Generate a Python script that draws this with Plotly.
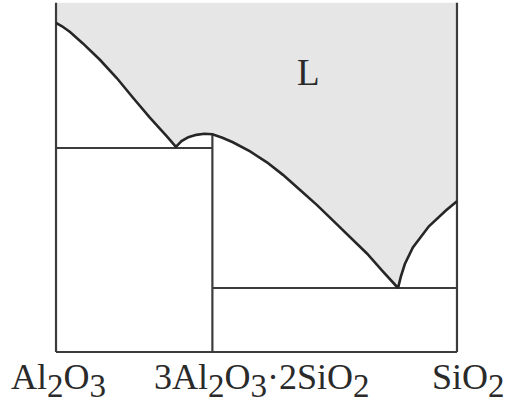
import plotly.graph_objects as go

# Composition (mol% SiO2) and temperature (deg C, schematic)
liq_x = [0, 1.5, 3.5, 6.7, 11.0, 15.2, 19.2, 23.4, 27.7, 29.9, 31.3, 33.0, 35.0, 37.0, 39.0,
         41.5, 44.1, 48.4, 52.6, 56.6, 60.8, 65.1, 69.1, 73.3, 77.6, 81.5, 84.2, 85.3,
         86.0, 87.0, 89.0, 93.0, 97.3, 100]
liq_T = [2059, 2053, 2043, 2023, 1994, 1962, 1928, 1893, 1860, 1842, 1852, 1859, 1863, 1865, 1864,
         1858, 1850, 1834, 1815, 1793, 1767, 1740, 1713, 1685, 1655, 1624, 1602, 1595,
         1615, 1637, 1666, 1703, 1731, 1747]

x_al2o3 = 0
x_mullite = 39
x_sio2 = 100
T_bottom = 1483
T_top = 2094
T_eut_al = 1840   # Al2O3 - mullite eutectic
T_eut_si = 1595   # mullite - SiO2 eutectic
T_mullite_melt = 1865

labels = ["Al<sub>2</sub>O<sub>3</sub>",
          "3Al<sub>2</sub>O<sub>3</sub>·2SiO<sub>2</sub>",
          "SiO<sub>2</sub>"]
label_x = [x_al2o3, x_mullite, x_sio2]
label_shift = [2, 50, 12]

fig = go.Figure()

# liquid region (shaded)
fig.add_trace(go.Scatter(
    x=[x_al2o3] + liq_x + [x_sio2, x_al2o3],
    y=[T_top] + liq_T + [T_top, T_top],
    fill="toself", fillcolor="#e6e6e6", mode="lines",
    line=dict(width=0), hoverinfo="skip", showlegend=False))

# frame and phase boundaries
fx = [x_al2o3, x_al2o3, None, x_al2o3, x_sio2, None, x_sio2, x_sio2, None,
      x_mullite, x_mullite, None, x_al2o3, x_mullite, None, x_mullite, x_sio2]
fy = [T_top, T_bottom, None, T_bottom, T_bottom, None, T_bottom, T_top, None,
      T_bottom, T_mullite_melt, None, T_eut_al, T_eut_al, None, T_eut_si, T_eut_si]
fig.add_trace(go.Scatter(x=fx, y=fy, mode="lines",
                         line=dict(color="#3c3c3c", width=2.2),
                         hoverinfo="skip", showlegend=False))

# liquidus
fig.add_trace(go.Scatter(x=liq_x, y=liq_T, mode="lines",
                         line=dict(color="#262626", width=2.6),
                         hoverinfo="skip", showlegend=False))

sub = lambda s: s.replace("<sub>", "<sub><span style='font-size:33px'>").replace("</sub>", "</span></sub>")
for t, xv, sh in zip(labels, label_x, label_shift):
    fig.add_annotation(x=xv, y=0, xref="x", yref="paper", yanchor="top",
                       text=sub(t), showarrow=False, xshift=sh, yshift=5,
                       font=dict(family="Liberation Serif, Times New Roman, serif", size=36, color="#2a2a2a"))

fig.add_annotation(x=63, y=1973, xref="x", yref="y", text="L", showarrow=False,
                   font=dict(family="Liberation Serif, Times New Roman, serif", size=37, color="#2a2a2a"))

fig.update_layout(
    width=512, height=404,
    margin=dict(l=48, r=47, t=0, b=44),
    paper_bgcolor="white", plot_bgcolor="white",
    xaxis=dict(range=[-2, 102], visible=False, fixedrange=True),
    yaxis=dict(range=[1469, 2099], visible=False, fixedrange=True),
)

fig.write_html("out.html")
